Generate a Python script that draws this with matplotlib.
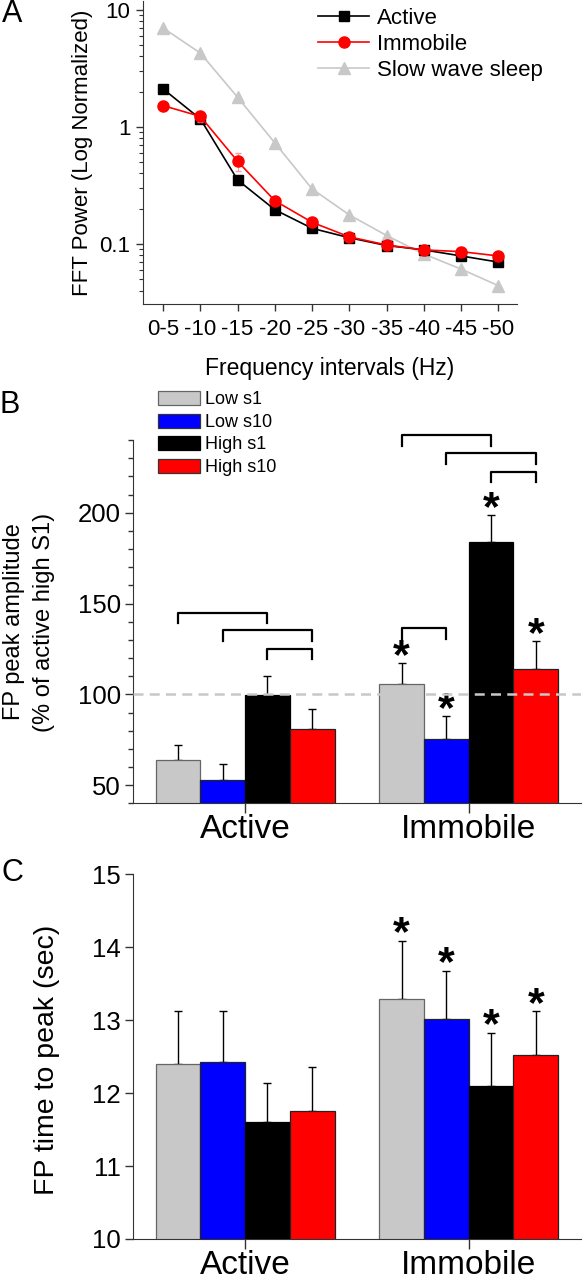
import numpy as np
import matplotlib
matplotlib.use("Agg")
import matplotlib.pyplot as plt
from matplotlib.ticker import MultipleLocator, NullFormatter, FixedLocator
from matplotlib.patches import Patch
from matplotlib.lines import Line2D

plt.rcParams['font.family'] = ['Liberation Sans', 'DejaVu Sans']
plt.rcParams['axes.edgecolor'] = '#333333'
plt.rcParams['xtick.color'] = '#333333'
plt.rcParams['ytick.color'] = '#333333'
plt.rcParams['xtick.labelcolor'] = 'black'
plt.rcParams['ytick.labelcolor'] = 'black'

# ---- panel A data: FFT power per 5 Hz bin
freq_labels = ['0-5', '-10', '-15', '-20', '-25', '-30', '-35', '-40', '-45', '-50']
fft_active = [2.11, 1.17, 0.352, 0.196, 0.136, 0.113, 0.097, 0.089, 0.079, 0.070]
fft_active_err = [0.18, 0.10, 0.03, 0.015, 0.008, 0.005, 0.004, 0.003, 0.004, 0.004]
fft_immobile = [1.52, 1.23, 0.508, 0.234, 0.153, 0.115, 0.098, 0.089, 0.086, 0.079]
fft_immobile_err = [0.08, 0.12, 0.09, 0.02, 0.01, 0.006, 0.005, 0.004, 0.004, 0.004]
fft_sws = [7.0, 4.27, 1.79, 0.73, 0.295, 0.177, 0.118, 0.082, 0.061, 0.044]

# ---- panels B and C data
states = ['Active', 'Immobile']
conditions = ['Low s1', 'Low s10', 'High s1', 'High s10']
cond_colors = ['#c8c8c8', '#0000ff', '#000000', '#ff0000']
cond_edges = ['#666666', '#222222', '#000000', '#222222']

amp_active = [63.8, 53.1, 99.8, 81.1]
amp_active_err = [8.2, 8.8, 10.2, 10.6]
amp_immobile = [105.5, 75.6, 183.8, 113.7]
amp_immobile_err = [11.5, 12.4, 14.9, 15.6]
# significance brackets: (state, bar from, bar to, level)
amp_brackets = [(0, 0, 2, 144.9), (0, 1, 3, 135.2), (0, 2, 3, 125.1),
                (1, 0, 1, 136.3), (1, 0, 2, 242.6), (1, 1, 3, 232.7), (1, 2, 3, 222.6)]
amp_stars = [(1, 0), (1, 1), (1, 2), (1, 3)]

ttp_active = [12.40, 12.43, 11.60, 11.75]
ttp_active_err = [0.72, 0.70, 0.54, 0.61]
ttp_immobile = [13.29, 13.01, 12.10, 12.52]
ttp_immobile_err = [0.80, 0.67, 0.73, 0.60]
ttp_stars = [(1, 0), (1, 1), (1, 2), (1, 3)]

W, H = 583, 1280
fig = plt.figure(figsize=(W / 100, H / 100), dpi=100)


def box(l, t, r, b):
    return [l / W, 1 - b / H, (r - l) / W, (b - t) / H]


# ================= A
axA = fig.add_axes(box(143, 1, 517, 304))
x = np.arange(len(freq_labels))
axA.plot(x, fft_sws, color='#c8c8c8', marker='^', ms=8, lw=1.2, label='Slow wave sleep', zorder=2)
axA.errorbar(x, fft_active, yerr=fft_active_err, color='black', ecolor='#999999', elinewidth=0.8,
             capsize=2, marker='s', ms=6.5, lw=1.2, label='Active', zorder=3)
axA.errorbar(x, fft_immobile, yerr=fft_immobile_err, color='#ff0000', ecolor='#ff9999', elinewidth=0.8,
             capsize=2, marker='o', ms=8, lw=1.2, label='Immobile', zorder=4)
axA.set_yscale('log')
axA.set_ylim(0.0307, 11.9)
axA.set_xlim(-0.54, 9.5)
axA.set_yticks([0.1, 1, 10], ['0.1', '1', '10'])
axA.yaxis.set_minor_formatter(NullFormatter())
axA.set_xticks(x, freq_labels)
axA.tick_params(labelsize=16, length=5, width=1, pad=4)
axA.tick_params(which='minor', length=3, width=0.8)
axA.tick_params(axis='x', pad=6)
for s in ['top', 'right']:
    axA.spines[s].set_visible(False)
axA.set_xlabel('Frequency intervals (Hz)', fontsize=16.5, labelpad=12)
fig.text(83 / W, 1 - 153 / H, 'FFT Power (Log Normalized)', rotation=90, fontsize=16,
         ha='center', va='center')
handles = [Line2D([], [], color='black', marker='s', ms=6.5, lw=1.2),
           Line2D([], [], color='#ff0000', marker='o', ms=8, lw=1.2),
           Line2D([], [], color='#c8c8c8', marker='^', ms=8, lw=1.2)]
fig.legend(handles, ['Active', 'Immobile', 'Slow wave sleep'], loc='upper left',
           bbox_to_anchor=(318 / W, 1 - 8 / H), frameon=False, fontsize=16,
           handlelength=2.3, handletextpad=0.35, labelspacing=0.22, borderpad=0, borderaxespad=0)
fig.text(12 / W, 1 - 14 / H, 'A', fontsize=22, ha='center', va='center')

# ================= B and C
offsets = (np.arange(len(conditions)) - 1.5) * 0.2
bar_w = 0.2


def bar_panel(ax, vals_a, err_a, vals_i, err_i):
    for k, (vals, errs) in enumerate([(vals_a, err_a), (vals_i, err_i)]):
        for j in range(len(conditions)):
            ax.bar(k + offsets[j], vals[j], width=bar_w, color=cond_colors[j],
                   edgecolor=cond_edges[j], lw=0.9, zorder=2)
            ax.errorbar(k + offsets[j], vals[j], yerr=[[0], [errs[j]]], color='black',
                        lw=1, capsize=3.2, capthick=1, zorder=1.5)
    ax.set_xlim(-0.5, 1.5)
    ax.set_xticks([0, 1], states)
    for s in ['top', 'right']:
        ax.spines[s].set_visible(False)
    ax.tick_params(axis='y', labelsize=18.5, length=6, width=1, pad=3)
    ax.tick_params(axis='x', labelsize=24, length=7, width=1, pad=1)


def add_stars(ax, stars, vals_a, err_a, vals_i, err_i):
    tops = [np.add(vals_a, err_a), np.add(vals_i, err_i)]
    for (k, j) in stars:
        ax.annotate('*', xy=(k + offsets[j], tops[k][j]), xytext=(0, -3.5), textcoords='offset points',
                    ha='center', va='baseline', fontsize=31, fontweight='bold', annotation_clip=False)


axB = fig.add_axes(box(133.3, 440.1, 580.5, 803.3))
bar_panel(axB, amp_active, amp_active_err, amp_immobile, amp_immobile_err)
axB.set_ylim(40, 240)
axB.yaxis.set_major_locator(FixedLocator([50, 100, 150, 200]))
axB.yaxis.set_minor_locator(MultipleLocator(10))
axB.tick_params(axis='y', which='minor', length=3.5, width=1)
axB.axhline(100, color='#c8c8c8', lw=1.8, ls=(0, (4, 2.5)), zorder=5)
for (k, i, j, lev) in amp_brackets:
    x0, x1 = k + offsets[i], k + offsets[j]
    axB.plot([x0, x0, x1, x1], [lev - 5.6, lev, lev, lev - 5.6], color='black', lw=1.6,
             clip_on=False, zorder=6)
add_stars(axB, amp_stars, amp_active, amp_active_err, amp_immobile, amp_immobile_err)
fig.text(29 / W, 1 - 622 / H, 'FP peak amplitude\n(% of active high S1)', rotation=90,
         fontsize=17, ha='center', va='center', linespacing=1.45, multialignment='center')
leg_handles = [Patch(facecolor=c, edgecolor=e, lw=0.9) for c, e in zip(cond_colors, ['#666666', '#333333', '#000000', '#333333'])]
fig.legend(leg_handles, conditions, loc='upper left', bbox_to_anchor=(158 / W, 1 - 391 / H),
           frameon=False, fontsize=13, handlelength=2.3, handleheight=0.85, handletextpad=0.3,
           labelspacing=0.28, borderpad=0, borderaxespad=0)
fig.text(10 / W, 1 - 405 / H, 'B', fontsize=22, ha='center', va='center')

axC = fig.add_axes(box(133.3, 874.3, 580.5, 1239))
bar_panel(axC, ttp_active, ttp_active_err, ttp_immobile, ttp_immobile_err)
axC.set_ylim(10, 15)
axC.yaxis.set_major_locator(MultipleLocator(1))
add_stars(axC, ttp_stars, ttp_active, ttp_active_err, ttp_immobile, ttp_immobile_err)
fig.text(47 / W, 1 - 1060 / H, 'FP time to peak (sec)', rotation=90, fontsize=20.5,
         ha='center', va='center')
fig.text(12 / W, 1 - 873 / H, 'C', fontsize=22, ha='center', va='center')

fig.savefig('out.png', dpi=100)
